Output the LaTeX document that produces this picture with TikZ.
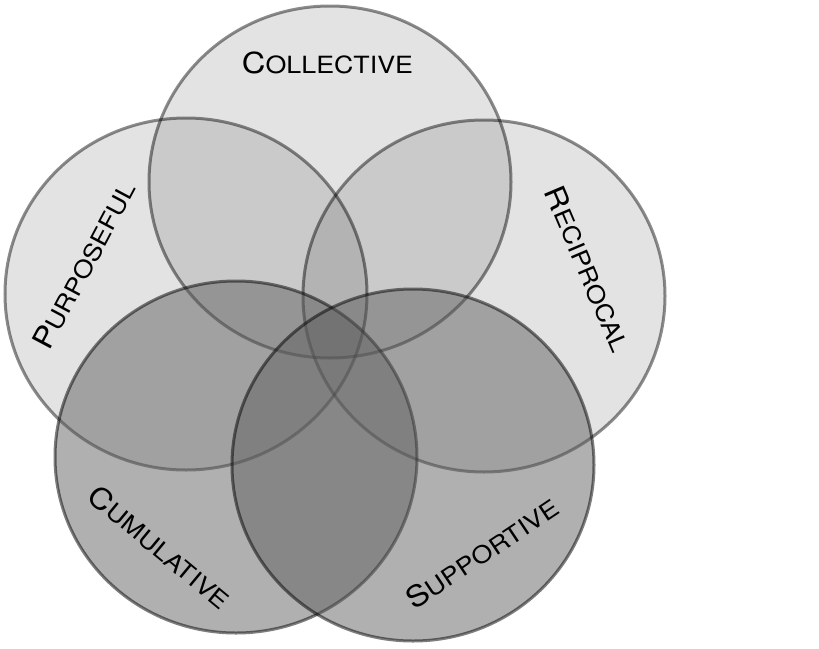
\documentclass[tikz,border=0pt]{standalone}
\usepackage{fontspec}
\setmainfont{TeX Gyre Heros}
\usetikzlibrary{shapes.geometric}
\newcommand\mysc[2]{\scalebox{1.13}[1]{{\fontsize{29}{29}\selectfont #1}{\fontsize{23.7}{23.7}\selectfont #2}}}
\tikzset{
  ring/.style={ellipse, inner sep=0pt, minimum width=362pt, minimum height=352pt, line width=3pt},
  topring/.style={ring, fill=black, fill opacity=0.11, draw=black, draw opacity=0.45},
  lowring/.style={ring, fill=black!63, fill opacity=0.49, draw=black, draw opacity=0.5},
  lbl/.style={inner sep=0pt, text=black}
}
\begin{document}
\begin{tikzpicture}[x=1pt,y=-1pt]
\useasboundingbox (0,0) rectangle (819,648);
\fill[white] (0,0) rectangle (819,648);
\node[topring] (col) at (330,182) {};
\node[topring] (pur) at (186,294) {};
\node[topring] (rec) at (484,296) {};
\node[lowring] (cum) at (236,457) {};
\node[lowring] (sup) at (413,465) {};
\node[lbl] (tcol) at (327.5,62.5) {\mysc{C}{OLLECTIVE}};
\node[lbl, rotate=62] (tpur) at (84,265) {\mysc{P}{URPOSEFUL}};
\node[lbl, rotate=-67] (trec) at (588,269) {\mysc{R}{ECIPROCAL}};
\node[lbl, rotate=-39.6] (tcum) at (160,547) {\mysc{C}{UMULATIVE}};
\node[lbl, rotate=33.7] (tsup) at (482,553) {\mysc{S}{UPPORTIVE}};
\end{tikzpicture}
\end{document}
